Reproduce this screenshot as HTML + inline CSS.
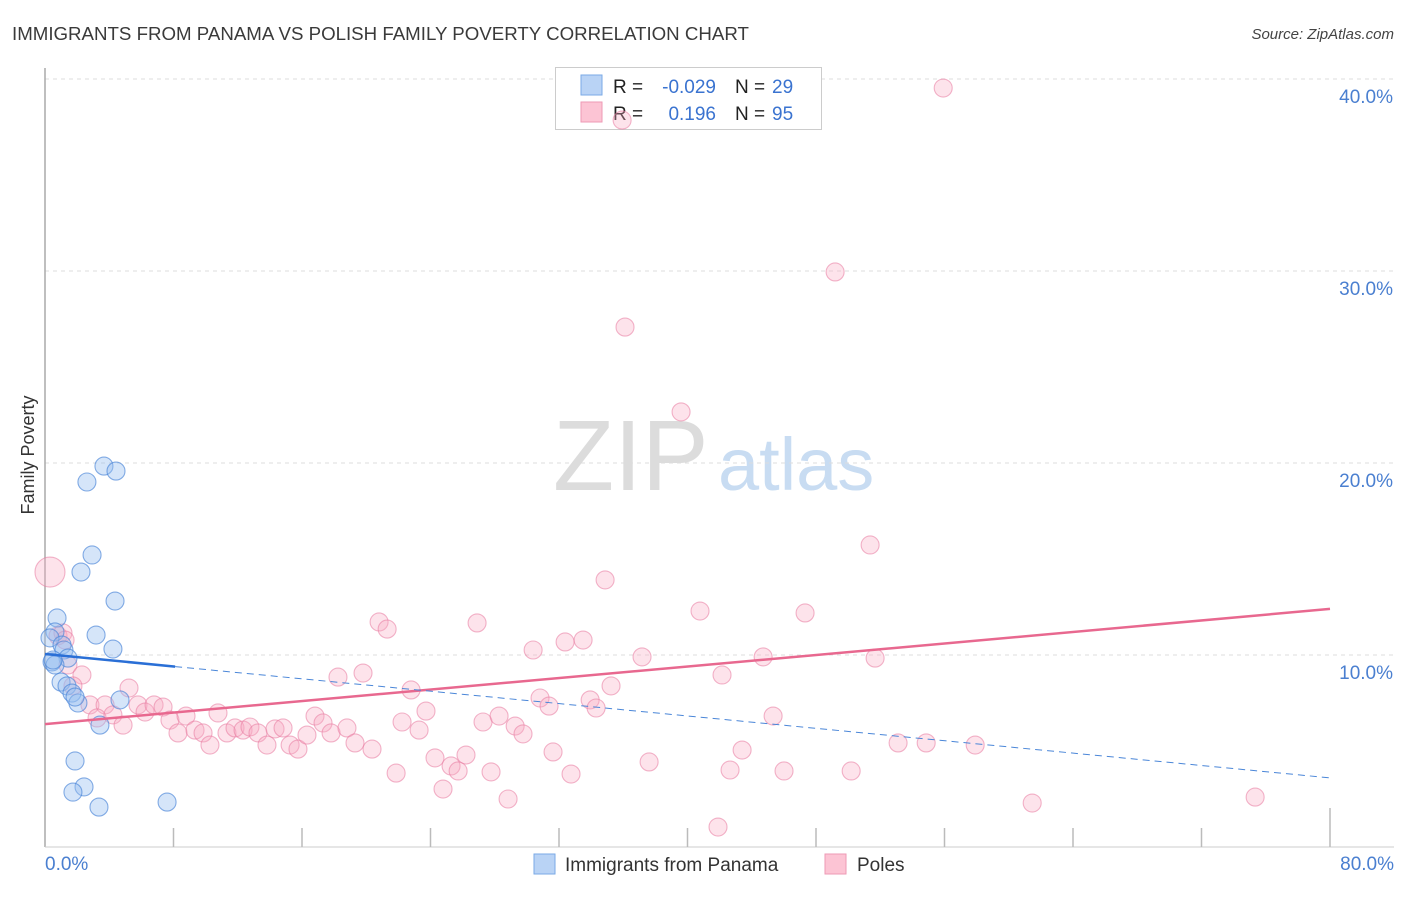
<!DOCTYPE html>
<html><head><meta charset="utf-8">
<style>
body{margin:0;background:#fff;font-family:"Liberation Sans",sans-serif;}
svg text{font-family:"Liberation Sans",sans-serif;}
</style></head>
<body>
<svg id="chart" width="1406" height="892" viewBox="0 0 1406 892" xmlns="http://www.w3.org/2000/svg">
<text x="12" y="40" font-size="18.7" fill="#3a3a3a">IMMIGRANTS FROM PANAMA VS POLISH FAMILY POVERTY CORRELATION CHART</text>
<text x="1394" y="39" font-size="15" fill="#444" font-style="italic" text-anchor="end">Source: ZipAtlas.com</text>
<g>
<text x="553" y="490" font-size="100" fill="#dcdcdc" font-family="Liberation Serif,serif">ZIP</text>
<text x="718" y="490" font-size="74" fill="#c8dcf2">atlas</text>
</g>
<g id="grid"></g>
<g id="axes"></g>
<g>
<rect x="555.5" y="67.5" width="266" height="62" fill="#fff" stroke="#ccc"/>
<rect x="581" y="75" width="21" height="20" fill="#b9d3f5" stroke="#7aaae6"/>
<rect x="581" y="102" width="21" height="20" fill="#fcc4d4" stroke="#ee9ab5"/>
<text x="613" y="93" font-size="19" fill="#222">R =</text>
<text x="716" y="93" font-size="19" fill="#3a73d0" text-anchor="end">-0.029</text>
<text x="735" y="93" font-size="19" fill="#222">N =</text>
<text x="772" y="93" font-size="19" fill="#3a73d0">29</text>
<text x="613" y="120" font-size="19" fill="#222">R =</text>
<text x="716" y="120" font-size="19" fill="#3a73d0" text-anchor="end">0.196</text>
<text x="735" y="120" font-size="19" fill="#222">N =</text>
<text x="772" y="120" font-size="19" fill="#3a73d0">95</text>
</g>
<g id="pts"></g>
<g id="lines"></g>
<text transform="translate(34,455) rotate(-90)" font-size="18" fill="#333" text-anchor="middle">Family Poverty</text>
<text x="45" y="870" font-size="19" fill="#4a7fd0">0.0%</text>
<text x="1394" y="870" font-size="19" fill="#4a7fd0" text-anchor="end">80.0%</text>
<g>
<rect x="534" y="854" width="21" height="20" fill="#b9d3f5" stroke="#7aaae6"/>
<text x="565" y="871" font-size="19" fill="#333">Immigrants from Panama</text>
<rect x="825" y="854" width="21" height="20" fill="#fcc4d4" stroke="#ee9ab5"/>
<text x="857" y="871" font-size="19" fill="#333">Poles</text>
</g>
</svg>
<script>
const yTicks=[10,20,30,40];
const yTickLabels=["10.0%","20.0%","30.0%","40.0%"];
const xTicks=[0,8,16,24,32,40,48,56,64,72,80];
const blueX=[3.67,4.42,2.61,2.93,2.24,4.36,0.75,3.18,0.62,4.23,0.31,1.06,1.18,1.43,0.44,0.62,1.0,1.37,1.68,2.05,1.87,4.67,3.42,1.87,2.43,1.74,3.36,7.6,0.5];
const blueY=[19.84,19.58,19.01,15.21,14.32,12.81,11.93,11.04,11.2,10.31,10.89,10.52,10.26,9.84,9.64,9.48,8.59,8.39,8.02,7.5,7.81,7.66,6.35,4.48,3.13,2.86,2.08,2.34,9.74];
const pinkX=[0.31,0.81,1.12,1.25,1.43,2.3,1.74,5.23,2.8,3.74,3.24,4.23,4.86,5.79,6.23,6.79,7.35,7.78,8.78,8.28,9.34,9.84,10.27,10.77,11.33,11.83,12.33,12.76,13.26,13.82,14.32,14.82,15.26,15.75,16.31,16.81,17.31,17.81,18.24,18.8,19.3,19.8,20.36,20.8,21.3,21.86,22.23,22.79,23.29,23.72,24.28,24.78,25.28,25.72,26.21,26.9,27.27,27.77,28.27,28.83,29.27,29.76,30.39,30.82,31.38,31.63,32.38,32.75,33.5,33.94,34.31,34.87,35.24,35.93,36.11,37.17,37.61,39.6,40.78,42.15,41.9,42.65,43.4,44.71,45.33,46.01,47.32,49.19,50.19,51.37,51.68,53.11,54.86,55.92,57.91,61.46,75.34];
const pinkY=[14.32,11.0,11.15,10.78,9.48,8.96,8.39,8.28,7.4,7.4,6.72,6.88,6.35,7.4,7.03,7.4,7.29,6.61,6.82,5.94,6.09,5.94,5.31,6.98,5.94,6.2,6.09,6.25,5.94,5.31,6.15,6.2,5.31,5.1,5.83,6.82,6.46,5.94,8.85,6.2,5.42,9.06,5.1,11.72,11.35,3.85,6.51,8.18,6.09,7.08,4.64,3.02,4.22,3.96,4.79,11.67,6.51,3.91,6.82,2.5,6.3,5.89,10.26,7.76,7.34,4.95,10.68,3.8,10.78,7.66,7.24,13.91,8.39,37.86,27.08,9.9,4.43,22.66,12.29,8.96,1.04,4.01,5.05,9.9,6.82,3.96,12.19,29.95,3.96,15.73,9.84,5.42,5.42,39.53,5.31,2.29,2.6];
const blueTrend=[10.05,3.6];
const blueSolidEnd=8.1;
const pinkTrend=[6.4,12.4];

const NS="http://www.w3.org/2000/svg";
const X0=45,X1=1330,Y0=847,PXY=19.2;
const sx=v=>X0+(X1-X0)*v/80;
const sy=v=>Y0-v*PXY;
function mk(tag,attrs,parent){const e=document.createElementNS(NS,tag);for(const k in attrs)e.setAttribute(k,attrs[k]);parent.appendChild(e);return e;}
const grid=document.getElementById('grid'),axes=document.getElementById('axes'),pts=document.getElementById('pts'),lines=document.getElementById('lines');
yTicks.forEach((t,i)=>{
  const l=mk('line',{x1:45,x2:1394,y1:sy(t),y2:sy(t),stroke:'#ddd','stroke-dasharray':'4,4'},grid);
  
  
  const tx=mk('text',{x:1393,y:sy(t)+24,'font-size':19,fill:'#4a7fd0','text-anchor':'end'},grid);
  tx.textContent=yTickLabels[i];
  
  
});
const ya=mk('line',{x1:45,x2:45,y1:68,y2:847,stroke:'#aaa','stroke-width':1.5},axes);


const xa=mk('line',{x1:45,x2:1394,y1:847,y2:847,stroke:'#ccc'},axes);


xTicks.forEach(t=>{
  if(t===0)return;
  const l=mk('line',{x1:sx(t),x2:sx(t),y1:t===80?808:828,y2:847,stroke:'#bbb','stroke-width':1.5},axes);
  
  
});
pinkX.forEach((x,i)=>{
  const c=mk('circle',{cx:sx(x),cy:sy(pinkY[i]),r:i===0?15:9,fill:'rgba(248,170,195,0.33)',stroke:'rgba(232,120,158,0.55)','stroke-width':1.1},pts);
  
  
});
blueX.forEach((x,i)=>{
  const c=mk('circle',{cx:sx(x),cy:sy(blueY[i]),r:9,fill:'rgba(150,190,240,0.4)',stroke:'rgba(70,130,215,0.65)','stroke-width':1.1},pts);
  
  
});
const bAt=x=>blueTrend[0]+(blueTrend[1]-blueTrend[0])*x/80;
const pl=mk('line',{x1:sx(0),y1:sy(pinkTrend[0]),x2:sx(80),y2:sy(pinkTrend[1]),stroke:'#e8688f','stroke-width':2.5},lines);


const bd=mk('line',{x1:sx(blueSolidEnd),y1:sy(bAt(blueSolidEnd)),x2:sx(80),y2:sy(bAt(80)),stroke:'#4a86d8','stroke-width':1,'stroke-dasharray':'7,5'},lines);


const bs=mk('line',{x1:sx(0),y1:sy(bAt(0)),x2:sx(blueSolidEnd),y2:sy(bAt(blueSolidEnd)),stroke:'#2a6fd6','stroke-width':2.5},lines);


</script>
</body></html>
